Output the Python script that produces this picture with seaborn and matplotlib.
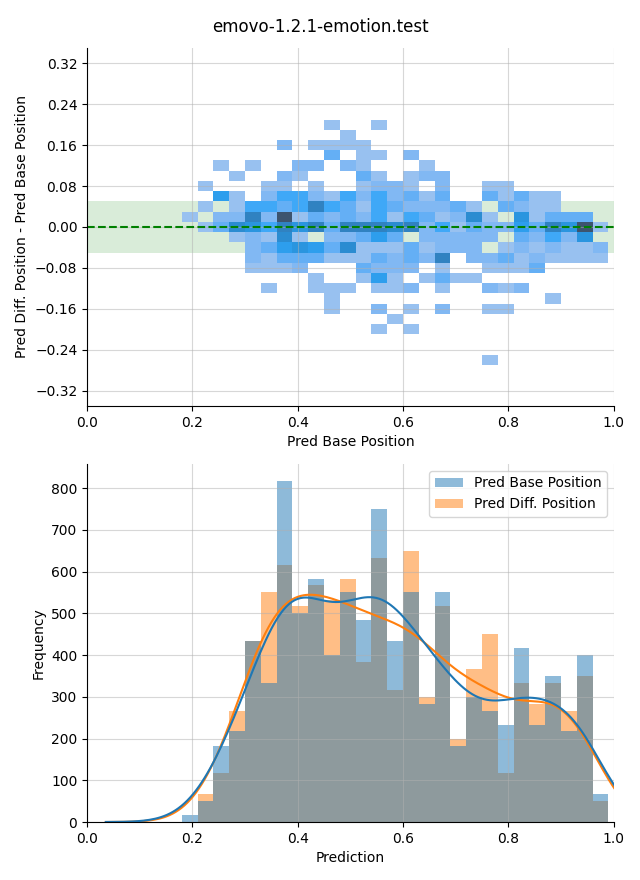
import numpy as np
import pandas as pd
import matplotlib
matplotlib.use("Agg")
import matplotlib.pyplot as plt
import seaborn as sns

TITLE = "emovo-1.2.1-emotion.test"
SERIES = ["Pred Base Position", "Pred Diff. Position"]

# centres of the 27 prediction bins (width 0.03)
bin_centers = [0.195, 0.225, 0.255, 0.285, 0.315, 0.345, 0.375, 0.405, 0.435,
               0.465, 0.495, 0.525, 0.555, 0.585, 0.615, 0.645, 0.675, 0.705,
               0.735, 0.765, 0.795, 0.825, 0.855, 0.885, 0.915, 0.945, 0.975]

# frequencies
freq_base = [17, 50, 183, 217, 433, 333, 817, 500, 583, 400, 550, 483, 750, 433,
             550, 283, 550, 183, 300, 267, 233, 417, 233, 350, 217, 400, 67]
freq_diff = [0, 67, 117, 267, 433, 550, 617, 517, 567, 533, 583, 383, 633, 317,
             650, 300, 517, 200, 367, 450, 117, 333, 283, 333, 267, 350, 50]

# centres of the difference bins (width 0.02), top row first
delta_centers = [0.20, 0.18, 0.16, 0.14, 0.12, 0.10, 0.08, 0.06, 0.04, 0.02, 0.00,
                 -0.02, -0.04, -0.06, -0.08, -0.10, -0.12, -0.14, -0.16, -0.18,
                 -0.20, -0.22, -0.24, -0.26]

# 2D histogram counts: one row per delta centre, one column per bin centre
cell_counts = [
    [0,0,0,0,0,0,0,0,0,1,0,0,1,0,0,0,0,0,0,0,0,0,0,0,0,0,0],
    [0,0,0,0,0,0,0,0,0,0,1,0,0,0,0,0,0,0,0,0,0,0,0,0,0,0,0],
    [0,0,0,0,0,0,2,0,1,1,1,1,0,0,0,0,0,0,0,0,0,0,0,0,0,0,0],
    [0,0,0,0,0,0,0,0,0,3,0,1,1,0,2,0,0,0,0,0,0,0,0,0,0,0,0],
    [0,0,1,0,1,0,0,2,2,0,2,1,0,0,0,1,0,0,0,0,0,0,0,0,0,0,0],
    [0,0,0,1,0,0,2,1,0,0,0,3,1,0,1,2,2,0,0,0,0,0,0,0,0,0,0],
    [0,1,0,0,0,1,1,0,1,0,0,1,2,2,1,0,2,0,0,1,1,0,0,0,0,0,0],
    [0,0,5,1,0,2,4,4,2,1,4,2,4,2,3,1,3,0,0,3,1,3,1,1,0,0,0],
    [0,1,0,1,4,4,3,4,8,4,3,1,4,3,2,2,2,3,1,0,3,2,1,1,0,0,0],
    [1,0,2,2,8,2,13,1,3,2,3,2,4,1,4,3,1,2,7,1,0,6,1,3,3,3,0],
    [0,1,3,7,6,4,8,6,8,3,8,8,8,7,8,2,4,1,3,2,2,5,3,8,6,13,1],
    [0,0,0,1,2,1,7,1,0,2,2,3,5,3,0,2,2,2,2,2,0,3,2,4,2,6,0],
    [0,0,0,0,2,3,5,6,5,3,7,1,1,1,3,1,2,2,2,0,1,2,1,2,1,1,2],
    [0,0,0,0,2,1,3,3,3,1,1,1,3,2,3,2,8,0,2,2,3,1,2,1,1,1,1],
    [0,0,0,0,1,1,1,2,0,0,0,3,2,2,2,0,1,0,0,1,1,1,3,0,0,0,0],
    [0,0,0,0,0,0,0,0,1,0,0,1,5,1,0,1,3,1,1,0,0,0,0,0,0,0,0],
    [0,0,0,0,0,1,0,0,1,1,1,0,1,1,2,0,1,0,0,2,1,2,0,0,0,0,0],
    [0,0,0,0,0,0,0,0,0,1,0,0,0,0,0,0,0,0,0,0,0,0,0,1,0,0,0],
    [0,0,0,0,0,0,0,0,0,1,0,0,2,0,1,0,2,0,0,1,1,0,0,0,0,0,0],
    [0,0,0,0,0,0,0,0,0,0,0,0,0,1,0,0,0,0,0,0,0,0,0,0,0,0,0],
    [0,0,0,0,0,0,0,0,0,0,0,0,1,0,1,0,0,0,0,0,0,0,0,0,0,0,0],
    [0,0,0,0,0,0,0,0,0,0,0,0,0,0,0,0,0,0,0,0,0,0,0,0,0,0,0],
    [0,0,0,0,0,0,0,0,0,0,0,0,0,0,0,0,0,0,0,0,0,0,0,0,0,0,0],
    [0,0,0,0,0,0,0,0,0,0,0,0,0,0,0,0,0,0,0,1,0,0,0,0,0,0,0],
]

yticks_top = [-0.32, -0.24, -0.16, -0.08, 0.0, 0.08, 0.16, 0.24, 0.32]

# ---- tables built from the lists above ----
rows = []
for dy, row in zip(delta_centers, cell_counts):
    for bx, n in zip(bin_centers, row):
        if n > 0:
            rows.append((bx, dy, n))
df2d = pd.DataFrame(rows, columns=["base", "delta", "n"])

df_hist = pd.DataFrame({
    "pred": bin_centers * 2,
    "freq": freq_base + freq_diff,
    "series": [SERIES[0]] * len(bin_centers) + [SERIES[1]] * len(bin_centers),
})

X_RANGE = (0.18, 0.99)
Y_RANGE = (-0.27, 0.21)

fig, (ax1, ax2) = plt.subplots(2, 1, figsize=(6.4, 8.8), dpi=100)
fig.subplots_adjust(left=0.136, right=0.959, top=0.9455, bottom=0.0659, hspace=0.162)

# ---- top panel ----
ax1.axhspan(-0.05, 0.05, color="green", alpha=0.15, linewidth=0, zorder=0.5)
sns.histplot(data=df2d, x="base", y="delta", weights="n",
             bins=(len(bin_centers), len(delta_centers)),
             binrange=(X_RANGE, Y_RANGE), color="#1f77b4", ax=ax1)
ax1.axhline(0, color="green", linestyle="--", linewidth=1.5)
ax1.set_xlim(0, 1)
ax1.set_ylim(-0.35, 0.35)
ax1.set_yticks(yticks_top)
ax1.set_xlabel("Pred Base Position")
ax1.set_ylabel("Pred Diff. Position - Pred Base Position")
ax1.grid(True, alpha=0.5)

# ---- bottom panel ----
sns.histplot(data=df_hist, x="pred", weights="freq", hue="series", hue_order=SERIES,
             bins=len(bin_centers), binrange=X_RANGE, kde=True,
             kde_kws={"bw_adjust": 0.5, "cut": 3}, alpha=0.5,
             linewidth=0, ax=ax2)
ax2.set_xlim(0, 1)
ax2.set_xlabel("Prediction")
ax2.set_ylabel("Frequency")
ax2.grid(True, alpha=0.5)
sns.move_legend(ax2, "upper right", title=None)

for ax in (ax1, ax2):
    sns.despine(ax=ax)

fig.suptitle(TITLE, fontsize=12)
fig.savefig("out.png", dpi=100)
